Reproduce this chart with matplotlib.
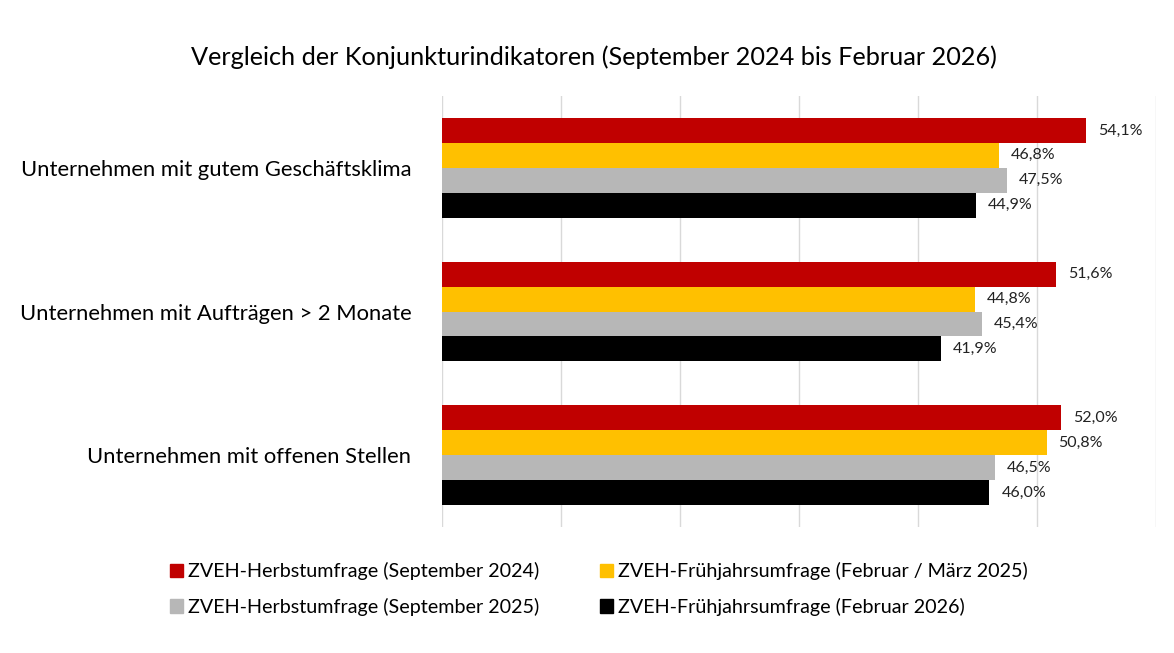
import matplotlib.pyplot as plt
from matplotlib.patches import Patch
import numpy as np

plt.rcParams['font.family'] = ['Lato', 'DejaVu Sans']

categories = [
    "Unternehmen mit gutem Geschäftsklima",
    "Unternehmen mit Aufträgen > 2 Monate",
    "Unternehmen mit offenen Stellen",
]
series_names = [
    "ZVEH-Herbstumfrage (September 2024)",
    "ZVEH-Frühjahrsumfrage (Februar / März 2025)",
    "ZVEH-Herbstumfrage (September 2025)",
    "ZVEH-Frühjahrsumfrage (Februar 2026)",
]
herbst_2024 = [54.1, 51.6, 52.0]
fruehjahr_2025 = [46.8, 44.8, 50.8]
herbst_2025 = [47.5, 45.4, 46.5]
fruehjahr_2026 = [44.9, 41.9, 46.0]
colors = ["#c00000", "#ffc000", "#b7b7b7", "#000000"]

values = [herbst_2024, fruehjahr_2025, herbst_2025, fruehjahr_2026]

fig = plt.figure(figsize=(11.74, 6.53), dpi=100)
ax = fig.add_axes([442 / 1174, 1 - 527 / 653, (1156 - 442) / 1174, (527 - 96) / 653])

y = np.arange(len(categories))
h = 25 / 144
for i, (vals, col) in enumerate(zip(values, colors)):
    pos = y - 1.5 * h + i * h
    ax.barh(pos, vals, height=h, color=col, zorder=3)
    for p, v in zip(pos, vals):
        ax.text(v + 1.0, p, f"{v:.1f}%".replace(".", ","), va="center", ha="left",
                fontsize=11.5, color="#222222")

ax.set_xlim(0, 60)
ax.set_ylim(2.5, -0.5)
ax.set_xticks(np.arange(0, 61, 10))
ax.xaxis.grid(True, color="#d9d9d9", linewidth=1, zorder=0)
ax.tick_params(axis="x", length=0, labelbottom=False)
ax.tick_params(axis="y", length=0, pad=22)
ax.set_yticks(y)
ax.set_yticklabels(categories, fontsize=15.8)
for s in ax.spines.values():
    s.set_visible(False)

fig.text(594 / 1174, 1 - 57 / 653, "Vergleich der Konjunkturindikatoren (September 2024 bis Februar 2026)",
         ha="center", va="center", fontsize=18.2)

order = [0, 2, 1, 3]
handles = [Patch(color=colors[k]) for k in order]
labels = [series_names[k] for k in order]
fig.legend(handles, labels, ncol=2, loc="center left",
           bbox_to_anchor=(152 / 1174, 1 - 589 / 653), frameon=False,
           fontsize=14.2, handlelength=0.65, handleheight=0.65, handletextpad=0.25,
           columnspacing=3.1, labelspacing=0.9)

fig.savefig("out.png", dpi=100)
